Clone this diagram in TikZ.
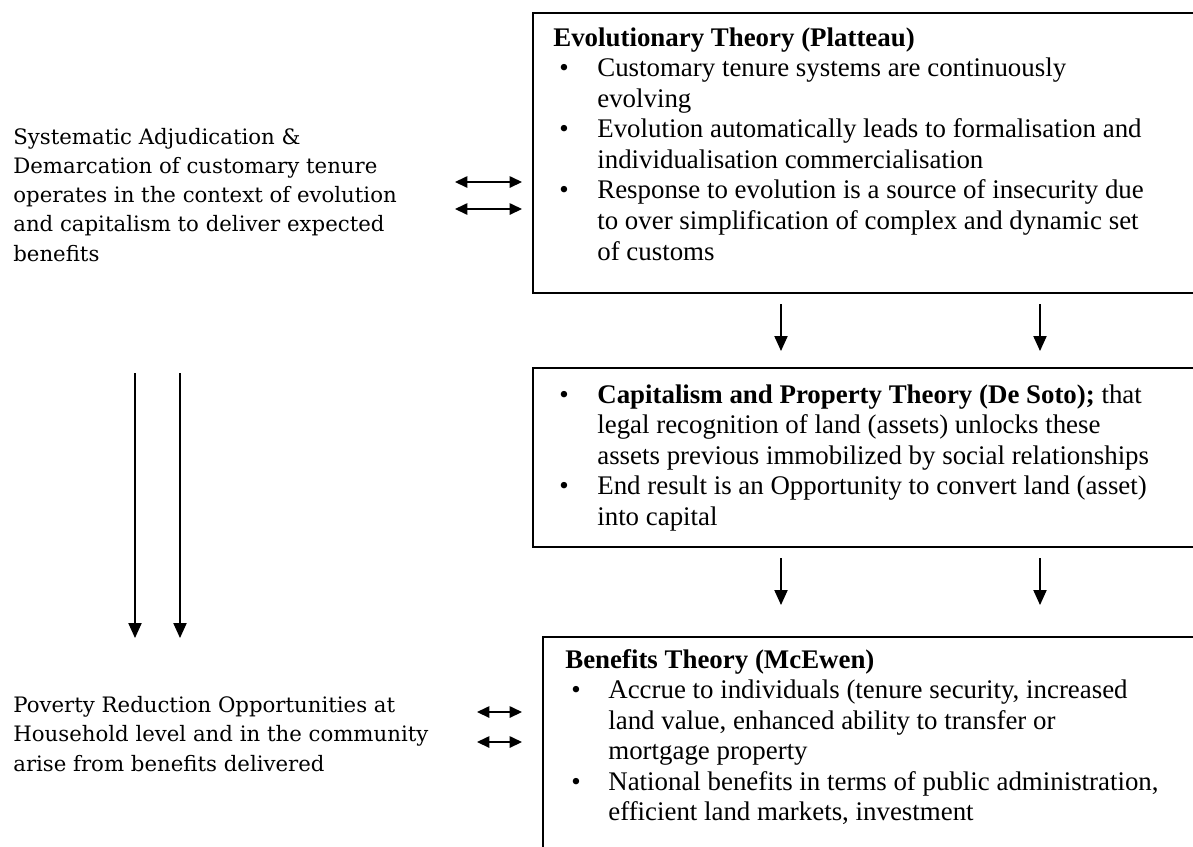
\documentclass[tikz,border=0pt]{standalone}
\usepackage{fontspec}
\setmainfont{Liberation Serif}
\newfontfamily\sidefont{DejaVu Serif}
\usepackage{tikz}
\usetikzlibrary{arrows.meta}

\newcommand{\bul}{\hspace{0.12cm}\textbullet}

\begin{document}
\begin{tikzpicture}[x=0.02cm, y=-0.02cm,
  frame/.style={draw, line width=1.1pt, anchor=north west, inner sep=0pt, outer sep=0pt, minimum width=14cm},
  boxtext/.style={anchor=base west, inner sep=0pt, font=\fontsize{15.3}{17.4}\selectfont},
  sidetext/.style={anchor=base west, inner sep=0pt, align=left, font=\sidefont\fontsize{12.1}{16.6}\selectfont},
  flow/.style={-{Triangle[length=8.5pt,width=7.5pt]}, line width=0.75pt},
  link/.style={{Triangle[length=7pt,width=6.5pt]}-{Triangle[length=7pt,width=6.5pt]}, line width=0.75pt}]
\useasboundingbox (0,0) rectangle (1193,846);
\clip (0,0) rectangle (1193,846);

% boxes on the right (open to the page edge)
\node[frame, minimum height=5.6cm] (evo) at (533,13) {};
\node[frame, minimum height=3.58cm] (cap) at (533,368) {};
\node[frame, minimum height=5cm] (ben) at (543,637) {};

\node[boxtext] (evotxt) at (553,46) {\begin{tabular}[t]{@{}p{0.88cm}@{}l@{}}
\multicolumn{2}{@{}l@{}}{\textbf{Evolutionary Theory (Platteau)}}\\
\bul & Customary tenure systems are continuously\\
     & evolving\\
\bul & Evolution automatically leads to formalisation and\\
     & individualisation commercialisation\\
\bul & Response to evolution is a source of insecurity due\\
     & to over simplification of complex and dynamic set\\
     & of customs
\end{tabular}};

\node[boxtext] (captxt) at (553,403) {\begin{tabular}[t]{@{}p{0.88cm}@{}l@{}}
\bul & \textbf{Capitalism and Property Theory (De Soto);} that\\
     & legal recognition of land (assets) unlocks these\\
     & assets previous immobilized by social relationships\\
\bul & End result is an Opportunity to convert land (asset)\\
     & into capital
\end{tabular}};

\node[boxtext] (bentxt) at (565,668) {\begin{tabular}[t]{@{}p{0.86cm}@{}l@{}}
\multicolumn{2}{@{}l@{}}{\textbf{Benefits Theory (McEwen)}}\\
\bul & Accrue to individuals (tenure security, increased\\
     & land value, enhanced ability to transfer or\\
     & mortgage property\\
\bul & National benefits in terms of public administration,\\
     & efficient land markets, investment
\end{tabular}};

% texts on the left (base is the last line)
\node[sidetext] (sad) at (13,261) {Systematic Adjudication \&\\
Demarcation of customary tenure\\
operates in the context of evolution\\
and capitalism to deliver expected\\
benefits};
\node[sidetext] (pov) at (13,771) {Poverty Reduction Opportunities at\\
Household level and in the community\\
arise from benefits delivered};

% arrow ends
\coordinate (sadA1) at (455,182);
\coordinate (sadB1) at (522,182);
\coordinate (sadA2) at (455,209);
\coordinate (sadB2) at (522,209);
\coordinate (povA1) at (477,712);
\coordinate (povB1) at (522,712);
\coordinate (povA2) at (477,742);
\coordinate (povB2) at (522,742);
\coordinate (evoS1) at (781,304);
\coordinate (capN1) at (781,351);
\coordinate (evoS2) at (1040,304);
\coordinate (capN2) at (1040,351);
\coordinate (capS1) at (781,558);
\coordinate (benN1) at (781,605);
\coordinate (capS2) at (1040,558);
\coordinate (benN2) at (1040,605);
\coordinate (sadS1) at (135,373);
\coordinate (povN1) at (135,638);
\coordinate (sadS2) at (180,373);
\coordinate (povN2) at (180,638);

\draw[link] (sadA1)--(sadB1);
\draw[link] (sadA2)--(sadB2);
\draw[link] (povA1)--(povB1);
\draw[link] (povA2)--(povB2);
\draw[flow] (evoS1)--(capN1);
\draw[flow] (evoS2)--(capN2);
\draw[flow] (capS1)--(benN1);
\draw[flow] (capS2)--(benN2);
\draw[flow] (sadS1)--(povN1);
\draw[flow] (sadS2)--(povN2);
\end{tikzpicture}
\end{document}
